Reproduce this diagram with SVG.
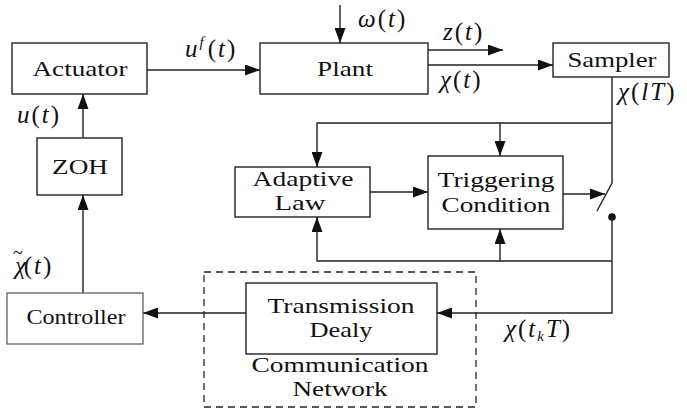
<svg xmlns="http://www.w3.org/2000/svg" width="687" height="410" viewBox="0 0 687 410">
<style>
.box{fill:#fff;stroke:#222;stroke-width:1.4}
.ln{fill:none;stroke:#222;stroke-width:1.4}
.t{font-family:"Liberation Serif","Times New Roman",Times,serif;font-size:21px;fill:#111;text-anchor:middle}
.m{font-family:"Liberation Serif","Times New Roman",Times,serif;font-size:25px;fill:#111;letter-spacing:2px}
.i{font-style:italic}
</style>
<defs>
<marker id="ah" markerUnits="userSpaceOnUse" markerWidth="15" markerHeight="11" refX="15" refY="5.5" orient="auto">
<path d="M0,0 L15,5.5 L0,11 z" fill="#111"/>
</marker>
</defs>
<rect width="687" height="410" fill="#fff"/>
<g id="connectors">
<path class="ln" d="M147,70 H260" marker-end="url(#ah)"/>
<path class="ln" d="M340,5 V43" marker-end="url(#ah)"/>
<path class="ln" d="M428,50 H503" marker-end="url(#ah)"/>
<path class="ln" d="M428,65 H553" marker-end="url(#ah)"/>
<path class="ln" d="M612,77 V183 L597,211"/>
<path class="ln" d="M612,123 H317 V167" marker-end="url(#ah)"/>
<path class="ln" d="M500,123 V156" marker-end="url(#ah)"/>
<path class="ln" d="M370,192 H428" marker-end="url(#ah)"/>
<path class="ln" d="M563,194 H605" marker-end="url(#ah)"/>
<circle cx="612" cy="217" r="3.8" fill="#111"/>
<path class="ln" d="M612,217 V313 H437" marker-end="url(#ah)"/>
<path class="ln" d="M612,261 H317 V217" marker-end="url(#ah)"/>
<path class="ln" d="M500,261 V229" marker-end="url(#ah)"/>
<path class="ln" d="M246,313 H143" marker-end="url(#ah)"/>
<path class="ln" d="M83,293 V195" marker-end="url(#ah)"/>
<path class="ln" d="M83,138 V94" marker-end="url(#ah)"/>
</g>
<g id="network">
<rect x="204" y="272" width="272" height="135" fill="none" stroke="#222" stroke-width="1.3" stroke-dasharray="7,5"/>
<text class="t" x="340" y="372" textLength="177" lengthAdjust="spacingAndGlyphs">Communication</text>
<text class="t" x="340" y="396" textLength="95" lengthAdjust="spacingAndGlyphs">Network</text>
</g>
<g id="actuator">
<rect class="box" x="12" y="43" width="135" height="51"/>
<text class="t" x="80" y="76" textLength="95" lengthAdjust="spacingAndGlyphs">Actuator</text>
</g>
<g id="plant">
<rect class="box" x="260" y="43" width="168" height="51"/>
<text class="t" x="345" y="76" textLength="56" lengthAdjust="spacingAndGlyphs">Plant</text>
</g>
<g id="sampler">
<rect class="box" x="553" y="43" width="116" height="34"/>
<text class="t" x="612" y="67" textLength="89" lengthAdjust="spacingAndGlyphs">Sampler</text>
</g>
<g id="zoh">
<rect class="box" x="37" y="138" width="85" height="57"/>
<text class="t" x="80" y="174" textLength="56" lengthAdjust="spacingAndGlyphs">ZOH</text>
</g>
<g id="adaptive">
<rect class="box" x="235" y="167" width="135" height="50"/>
<text class="t" x="303" y="186" textLength="101" lengthAdjust="spacingAndGlyphs">Adaptive</text>
<text class="t" x="300" y="210" textLength="51" lengthAdjust="spacingAndGlyphs">Law</text>
</g>
<g id="trigger">
<rect class="box" x="428" y="156" width="135" height="73"/>
<text class="t" x="496" y="187" textLength="117" lengthAdjust="spacingAndGlyphs">Triggering</text>
<text class="t" x="496" y="212" textLength="109" lengthAdjust="spacingAndGlyphs">Condition</text>
</g>
<g id="controller">
<rect x="7" y="293" width="136" height="51" fill="#fff" stroke="#555" stroke-width="1.2"/>
<text class="t" x="76" y="324" textLength="99" lengthAdjust="spacingAndGlyphs">Controller</text>
</g>
<g id="transmission">
<rect class="box" x="246" y="283" width="191" height="71"/>
<text class="t" x="341" y="313" textLength="147" lengthAdjust="spacingAndGlyphs">Transmission</text>
<text class="t" x="341" y="337" textLength="63" lengthAdjust="spacingAndGlyphs">Dealy</text>
</g>
<g id="labels">
<text class="m" x="185" y="57"><tspan class="i">u</tspan><tspan class="i" font-size="15" dy="-10">f</tspan><tspan dy="10" dx="2">(</tspan><tspan class="i">t</tspan>)</text>
<text class="m" x="17" y="123"><tspan class="i">u</tspan>(<tspan class="i">t</tspan>)</text>
<text class="m" x="358" y="27"><tspan class="i">ω</tspan>(<tspan class="i">t</tspan>)</text>
<text class="m" x="443" y="40"><tspan class="i">z</tspan>(<tspan class="i">t</tspan>)</text>
<text class="m" x="440" y="88"><tspan class="i">χ</tspan>(<tspan class="i">t</tspan>)</text>
<text class="m" x="618" y="100" letter-spacing="0"><tspan class="i">χ</tspan>(<tspan class="i">lT</tspan>)</text>
<text class="m" x="13" y="274"><tspan class="i">χ</tspan><tspan font-size="18" dx="-15" dy="-15">~</tspan><tspan dy="15" dx="-1">(</tspan><tspan class="i">t</tspan>)</text>
<text class="m" x="505" y="337"><tspan class="i">χ</tspan>(<tspan class="i">t</tspan><tspan class="i" font-size="15" dy="4">k</tspan><tspan class="i" dy="-4">T</tspan>)</text>
</g>
</svg>
